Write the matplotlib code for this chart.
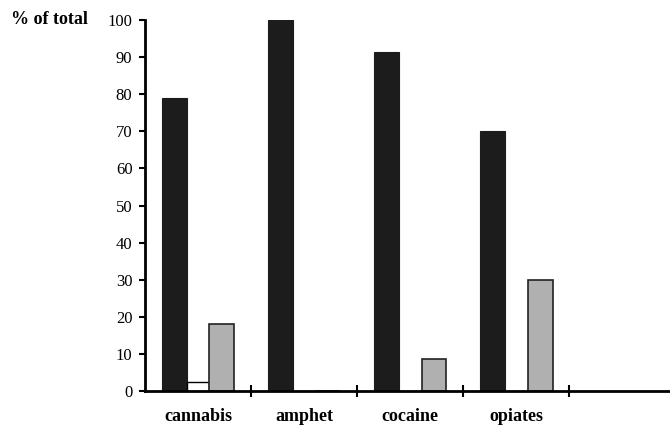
import matplotlib
matplotlib.use("Agg")
import matplotlib.pyplot as plt
import numpy as np

categories = ["cannabis", "amphet", "cocaine", "opiates"]
black_vals = [79, 100, 91.5, 70]
white_vals = [2.5, 0, 0, 0]
grey_vals = [18, 0, 8.5, 30]
yticks = [0, 10, 20, 30, 40, 50, 60, 70, 80, 90, 100]

plt.rcParams['font.family'] = ['Liberation Serif', 'DejaVu Serif']

fig = plt.figure(figsize=(6.70, 4.28), dpi=100)
ax = fig.add_axes([145/670, 37/428, 525/670, 371/428])

centers = np.arange(len(categories)) + 0.5
w = 0.235
ax.bar(centers - 0.225, black_vals, width=w, color='#1c1c1c', edgecolor='#1c1c1c', linewidth=0.8)
ax.bar(centers, white_vals, width=w*0.9, color='white', edgecolor='black', linewidth=1.0)
ax.bar(centers + 0.225, grey_vals, width=w, color='#b0b0b0', edgecolor='#222222', linewidth=1.2)

ax.set_xlim(0, 4.95)
ax.set_ylim(0, 100)
for s in ['top', 'right']:
    ax.spines[s].set_visible(False)
ax.spines['left'].set_linewidth(2)
ax.spines['bottom'].set_linewidth(2)

ax.set_yticks(yticks)
ax.set_yticklabels([str(v) for v in yticks], fontsize=12)
ax.tick_params(axis='y', direction='out', length=4, width=1.5, pad=5)

ax.set_xticks([1, 2, 3, 4])
ax.set_xticklabels([])
ax.tick_params(axis='x', which='major', direction='inout', length=9, width=1.5)
ax.set_xticks(centers, minor=True)
ax.set_xticklabels(categories, minor=True, fontsize=13, fontweight='bold')
ax.tick_params(axis='x', which='minor', length=0, pad=12)

fig.text(11/670, 1 - 20/428, "% of total", fontsize=13, fontweight='bold', va='center', ha='left')

fig.savefig("out.png", dpi=100)
